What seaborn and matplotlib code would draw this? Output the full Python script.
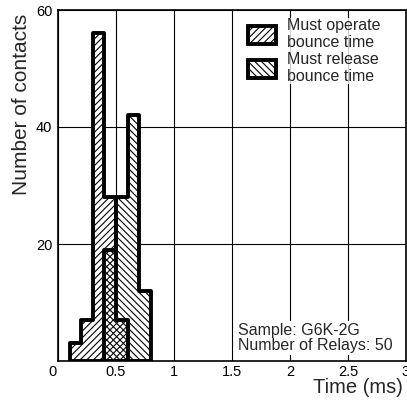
import numpy as np
import pandas as pd
import matplotlib
matplotlib.use("Agg")
import matplotlib.pyplot as plt
import matplotlib.transforms as mtransforms
from matplotlib.patches import Patch
import seaborn as sns

# ---- data ----
operate_edges = [0.1, 0.2, 0.3, 0.4, 0.5, 0.6]
operate_counts = [3, 7, 56, 28, 7]
release_edges = [0.4, 0.5, 0.6, 0.7, 0.8]
release_counts = [19, 28, 42, 12]
x_ticks = [0, 0.5, 1, 1.5, 2, 2.5, 3]
x_tick_labels = ["0", "0.5", "1", "1.5", "2", "2.5", "3"]
y_ticks = [20, 40, 60]
y_tick_labels = ["20", "40", "60"]
legend_labels = ["Must operate\nbounce time", "Must release\nbounce time"]
note_text = "Sample: G6K-2G\nNumber of Relays: 50"

sns.set_style("white")
plt.rcParams["font.family"] = ["Liberation Sans", "DejaVu Sans"]
plt.rcParams["hatch.linewidth"] = 0.8
plt.rcParams["hatch.color"] = "#222222"

def centers(edges):
    return [(a + b) / 2 for a, b in zip(edges[:-1], edges[1:])]

op_df = pd.DataFrame({"t": centers(operate_edges), "n": operate_counts})
re_df = pd.DataFrame({"t": centers(release_edges), "n": release_counts})

fig = plt.figure(figsize=(4.07, 4.03), dpi=100)
ax = fig.add_axes([58 / 407, 42 / 403, 348 / 407, 351 / 403])

LW = 2.8
# white underlay so grid does not show through the bars
for df, edges in [(op_df, operate_edges), (re_df, release_edges)]:
    sns.histplot(data=df, x="t", weights="n", bins=edges, element="step",
                 fill=True, color="white", facecolor="white", edgecolor="none",
                 linewidth=0, ax=ax, zorder=2)
# hatched outlines
sns.histplot(data=op_df, x="t", weights="n", bins=operate_edges, element="step",
             fill=True, color="black", facecolor="none", edgecolor="black",
             hatch="/////", linewidth=LW, ax=ax, zorder=3)
sns.histplot(data=re_df, x="t", weights="n", bins=release_edges, element="step",
             fill=True, color="black", facecolor="none", edgecolor="black",
             hatch="\\\\\\\\\\", linewidth=LW, ax=ax, zorder=3)

ax.set_xlim(0, 3)
ax.set_ylim(0, 60)
ax.set_xticks(x_ticks)
ax.set_xticklabels(x_tick_labels, fontsize=10.5)
ax.set_yticks(y_ticks)
ax.set_yticklabels(y_tick_labels, fontsize=10.5)
ax.tick_params(axis="both", length=0, pad=3, colors="black")
ax.tick_params(axis="y", pad=4)
lbl0 = ax.get_xticklabels()[0]
lbl0.set_transform(lbl0.get_transform() + mtransforms.ScaledTranslation(-6 / 100, 0, fig.dpi_scale_trans))

ax.grid(True, color="black", linewidth=0.8)
ax.set_axisbelow(True)
for s in ax.spines.values():
    s.set_color("black")
    s.set_linewidth(1.2)
    s.set_zorder(5)

ax.set_ylabel("Number of contacts", fontsize=15)
ax.yaxis.set_label_coords(-0.078, 0.73)
ax.set_xlabel("Time (ms)", fontsize=14.5)
ax.xaxis.set_label_coords(0.863, -0.048)

handles = [
    Patch(facecolor="white", edgecolor="black", hatch="/////", linewidth=LW),
    Patch(facecolor="white", edgecolor="black", hatch="\\\\\\\\\\", linewidth=LW),
]
leg = ax.legend(handles, legend_labels, loc="upper left",
                bbox_to_anchor=(0.545, 0.978), frameon=True, fontsize=11.5,
                handlelength=1.8, handleheight=1.35, handletextpad=0.65,
                labelspacing=0.08, borderpad=0.0, borderaxespad=0.0)
leg.get_frame().set_edgecolor("none")
leg.get_frame().set_facecolor("white")
for t in leg.get_texts():
    t.set_linespacing(1.22)

ax.text(1.553, 1.3, note_text, fontsize=11.5, ha="left", va="bottom",
        linespacing=1.05, zorder=6,
        bbox=dict(facecolor="white", edgecolor="none", pad=1))

fig.savefig("out.png", dpi=100)
